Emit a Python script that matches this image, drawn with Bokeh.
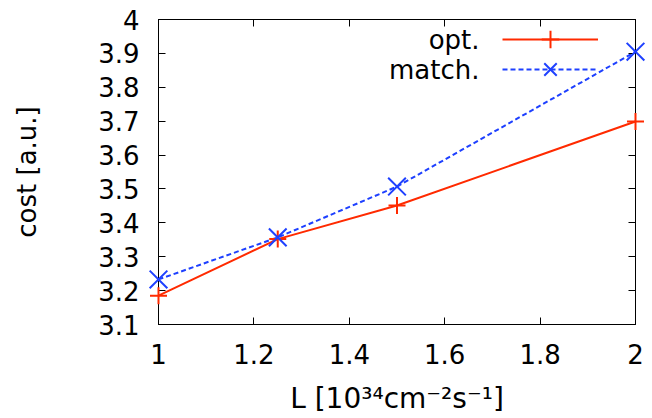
from bokeh.plotting import figure
from bokeh.models import Range1d, FixedTicker, LinearAxis, Legend, LegendItem, CustomLabelingPolicy, Label
from bokeh.embed import file_html
from bokeh.resources import INLINE

L_vals = [1.0, 1.25, 1.5, 2.0]
opt_cost = [3.185, 3.352, 3.451, 3.699]
match_cost = [3.233, 3.357, 3.507, 3.905]
x_ticks = [1.0, 1.2, 1.4, 1.6, 1.8, 2.0]
x_tick_labels = ["1", "1.2", "1.4", "1.6", "1.8", "2"]
y_ticks = [3.1, 3.2, 3.3, 3.4, 3.5, 3.6, 3.7, 3.8, 3.9, 4.0]
y_tick_labels = ["3.1", "3.2", "3.3", "3.4", "3.5", "3.6", "3.7", "3.8", "3.9", "4"]
series_names = ["opt.", "match."]

RED = "#ff2a00"
BLUE = "#1e40ff"
FONT = "DejaVu Sans"

p = figure(frame_width=477, frame_height=305, output_backend="svg", toolbar_location=None,
           x_range=Range1d(1.0, 2.0), y_range=Range1d(3.1, 4.0),
           min_border_left=158, min_border_right=17, min_border_top=19, min_border_bottom=94,
           background_fill_color="white", border_fill_color="white")
p.grid.visible = False
p.outline_line_color = "black"
p.outline_line_width = 1

for ax, ticks, labels in ((p.xaxis[0], x_ticks, x_tick_labels), (p.yaxis[0], y_ticks, y_tick_labels)):
    ax.ticker = FixedTicker(ticks=ticks)
    ax.major_label_overrides = {t: s for t, s in zip(ticks, labels)}
    ax.major_tick_in = 7
    ax.major_tick_out = 0
    ax.minor_tick_line_color = None
    ax.axis_line_color = "black"
    ax.major_tick_line_color = "black"
    ax.major_label_text_font = FONT
    ax.major_label_text_font_size = "26px"
    ax.major_label_text_color = "black"

p.xaxis.major_label_standoff = 19
p.yaxis.major_label_standoff = 19
p.yaxis.axis_label = "cost [a.u.]"
p.yaxis.axis_label_text_font = FONT
p.yaxis.axis_label_text_font_size = "26px"
p.yaxis.axis_label_text_font_style = "normal"
p.yaxis.axis_label_text_color = "black"
p.yaxis.axis_label_standoff = 53

p.xaxis.axis_label = "L [10\u00b3\u2074cm\u207b\u00b2s\u207b\u00b9]"
p.xaxis.axis_label_text_font = FONT
p.xaxis.axis_label_text_font_size = "28px"
p.xaxis.axis_label_text_font_style = "normal"
p.xaxis.axis_label_text_color = "black"
p.xaxis.axis_label_standoff = 15

# mirrored ticks on top and right (no labels)
no_labels = CustomLabelingPolicy(code="return new Set()")
for loc, ticks in (("above", x_ticks), ("right", y_ticks)):
    ax = LinearAxis(ticker=FixedTicker(ticks=ticks), major_tick_in=7, major_tick_out=0,
                    minor_tick_line_color=None, major_label_policy=no_labels,
                    major_label_standoff=0, axis_line_color="black")
    p.add_layout(ax, loc)

r_opt_l = p.line(L_vals, opt_cost, line_color=RED, line_width=2)
r_opt_m = p.scatter(L_vals, opt_cost, marker="cross", size=17, line_color=RED, line_width=2,
                    level="overlay")
r_mat_l = p.line(L_vals, match_cost, line_color=BLUE, line_width=2, line_dash="5 3")
r_mat_m = p.scatter(L_vals, match_cost, marker="x", size=25, line_color=BLUE, line_width=2,
                    level="overlay")

# gnuplot-style key: text on the left, sample on the right (one legend per row)
for renderers, loc in (([r_opt_l, r_opt_m], (344, 263)), ([r_mat_l, r_mat_m], (344, 233))):
    leg = Legend(items=[LegendItem(label=" ", renderers=renderers)],
                 location=loc, glyph_width=96, glyph_height=44, spacing=0,
                 label_standoff=0, label_width=1,
                 label_text_font=FONT, label_text_font_size="26px", label_text_color="black",
                 padding=0, margin=0, border_line_color=None, background_fill_alpha=0)
    p.add_layout(leg, "center")

for name, y in zip(series_names, (285, 255)):
    p.add_layout(Label(x=321, y=y, x_units="screen", y_units="screen", text=name,
                       text_align="right", text_baseline="middle",
                       text_font=FONT, text_font_size="26px", text_color="black"))

open("out.html", "w").write(file_html(p, INLINE))
